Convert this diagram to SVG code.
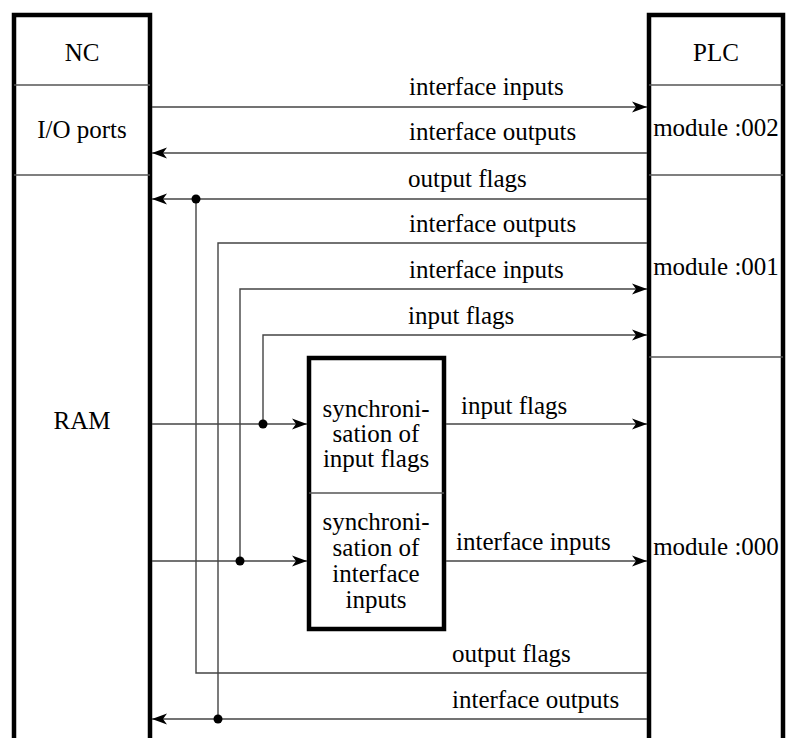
<svg xmlns="http://www.w3.org/2000/svg" width="796" height="738" viewBox="0 0 796 738" font-family="Liberation Serif, serif" font-size="25">
<style>
.c{text-anchor:middle}
.thick{fill:none;stroke:#000;stroke-width:4.5}
.div{stroke:#555;stroke-width:1.4}
.ln{fill:none;stroke:#444;stroke-width:1.4}
.dot{fill:#000}
</style>
<defs>
<marker id="ah" markerWidth="16" markerHeight="12" refX="15" refY="6" orient="auto" markerUnits="userSpaceOnUse">
<path d="M0,0.5 L15,6 L0,11.5 L4,6 z" fill="#000"/>
</marker>
</defs>
<rect width="796" height="738" fill="#fff"/>
<g id="nc">
<path class="thick" d="M14,745 V15 H150 V745"/>
<line class="div" x1="14" y1="85" x2="150" y2="85"/>
<line class="div" x1="14" y1="175" x2="150" y2="175"/>
<text class="c" x="82" y="61">NC</text>
<text class="c" x="82" y="138">I/O ports</text>
<text class="c" x="82" y="429">RAM</text>
</g>
<g id="plc">
<path class="thick" d="M649,745 V15 H783 V745"/>
<line class="div" x1="649" y1="85" x2="783" y2="85"/>
<line class="div" x1="649" y1="175" x2="783" y2="175"/>
<line class="div" x1="649" y1="357" x2="783" y2="357"/>
<text class="c" x="716" y="61">PLC</text>
<text class="c" x="716" y="136">module :002</text>
<text class="c" x="716" y="275">module :001</text>
<text class="c" x="716" y="555">module :000</text>
</g>
<g id="sync">
<rect class="thick" x="309" y="358" width="135" height="271"/>
<line class="div" x1="309" y1="493" x2="444" y2="493"/>
<text class="c" x="376" y="417">synchroni-</text>
<text class="c" x="376" y="442">sation of</text>
<text class="c" x="376" y="467">input flags</text>
<text class="c" x="376" y="530">synchroni-</text>
<text class="c" x="376" y="556">sation of</text>
<text class="c" x="376" y="582">interface</text>
<text class="c" x="376" y="608">inputs</text>
</g>
<g id="connectors">
<line class="ln" x1="152" y1="107" x2="647" y2="107" marker-end="url(#ah)"/>
<line class="ln" x1="647" y1="153" x2="152" y2="153" marker-end="url(#ah)"/>
<line class="ln" x1="647" y1="199" x2="152" y2="199" marker-end="url(#ah)"/>
<polyline class="ln" points="196,199 196,673 647,673"/>
<polyline class="ln" points="647,243 218,243 218,719"/>
<line class="ln" x1="647" y1="719" x2="152" y2="719" marker-end="url(#ah)"/>
<polyline class="ln" points="240,561 240,289 647,289" marker-end="url(#ah)"/>
<polyline class="ln" points="263,424 263,335 647,335" marker-end="url(#ah)"/>
<line class="ln" x1="152" y1="424" x2="307" y2="424" marker-end="url(#ah)"/>
<line class="ln" x1="152" y1="561" x2="307" y2="561" marker-end="url(#ah)"/>
<line class="ln" x1="446" y1="424" x2="647" y2="424" marker-end="url(#ah)"/>
<line class="ln" x1="446" y1="561" x2="647" y2="561" marker-end="url(#ah)"/>
<circle class="dot" cx="196" cy="199" r="4.5"/>
<circle class="dot" cx="218" cy="719" r="4.5"/>
<circle class="dot" cx="240" cy="561" r="4.5"/>
<circle class="dot" cx="263" cy="424" r="4.5"/>
<text x="409" y="95">interface inputs</text>
<text x="409" y="140">interface outputs</text>
<text x="408" y="187">output flags</text>
<text x="409" y="232">interface outputs</text>
<text x="409" y="278">interface inputs</text>
<text x="408" y="324">input flags</text>
<text x="461" y="414">input flags</text>
<text x="456" y="550">interface inputs</text>
<text x="452" y="662">output flags</text>
<text x="452" y="708">interface outputs</text>
</g>
</svg>
